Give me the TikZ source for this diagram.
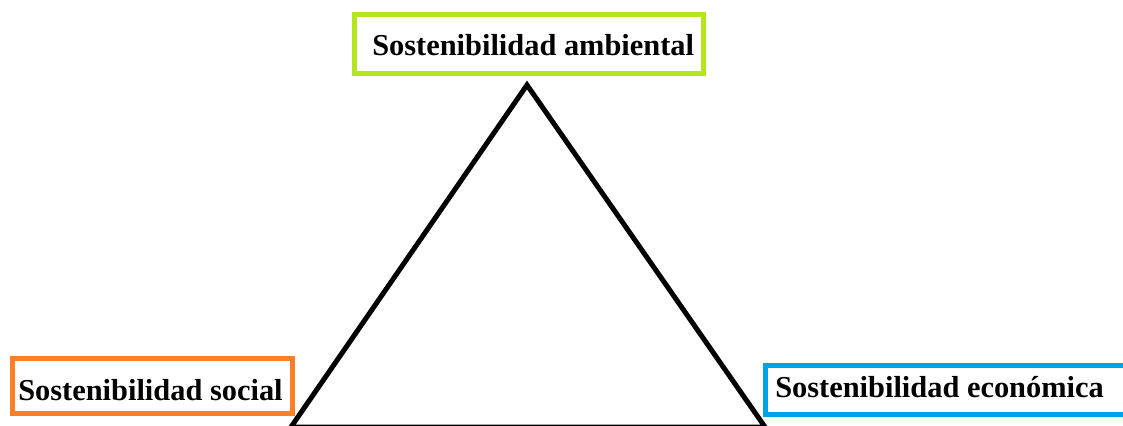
\documentclass[tikz,border=0pt]{standalone}
\usepackage{fontspec}
\setmainfont{Liberation Serif}
\definecolor{limeg}{HTML}{B5E61D}
\definecolor{orng}{HTML}{FF7F27}
\definecolor{skyb}{HTML}{00A2E8}
\begin{document}
\begin{tikzpicture}[x=0.75pt,y=-0.75pt,
  lbl/.style={font=\fontsize{22.8pt}{26pt}\selectfont\bfseries, inner sep=0pt, anchor=base west},
  framebox/.style={line width=3.75pt}]
\useasboundingbox (0,0) rectangle (1123,425);
\clip (0,0) rectangle (1123,425);
\fill[white] (0,0) rectangle (1123,425);
% boxes
\draw[framebox, limeg] (354.5,14.5) rectangle (703.5,73.5);
\draw[framebox, orng] (12.5,358.5) rectangle (292.5,413.5);
\draw[framebox, skyb] (765.5,365.5) rectangle (1140,414.5);
% labels
\node[lbl] (amb) at (372,55) {Sostenibilidad ambiental};
\node[lbl] (soc) at (18,400) {Sostenibilidad social};
\node[lbl] (eco) at (775,397) {Sostenibilidad económica};
% triangle
\coordinate (top) at (527,85);
\coordinate (bl) at (291,427);
\coordinate (br) at (765,427);
\draw[line width=3.75pt, line join=miter] (top) -- (bl) -- (br) -- cycle;
\end{tikzpicture}
\end{document}
